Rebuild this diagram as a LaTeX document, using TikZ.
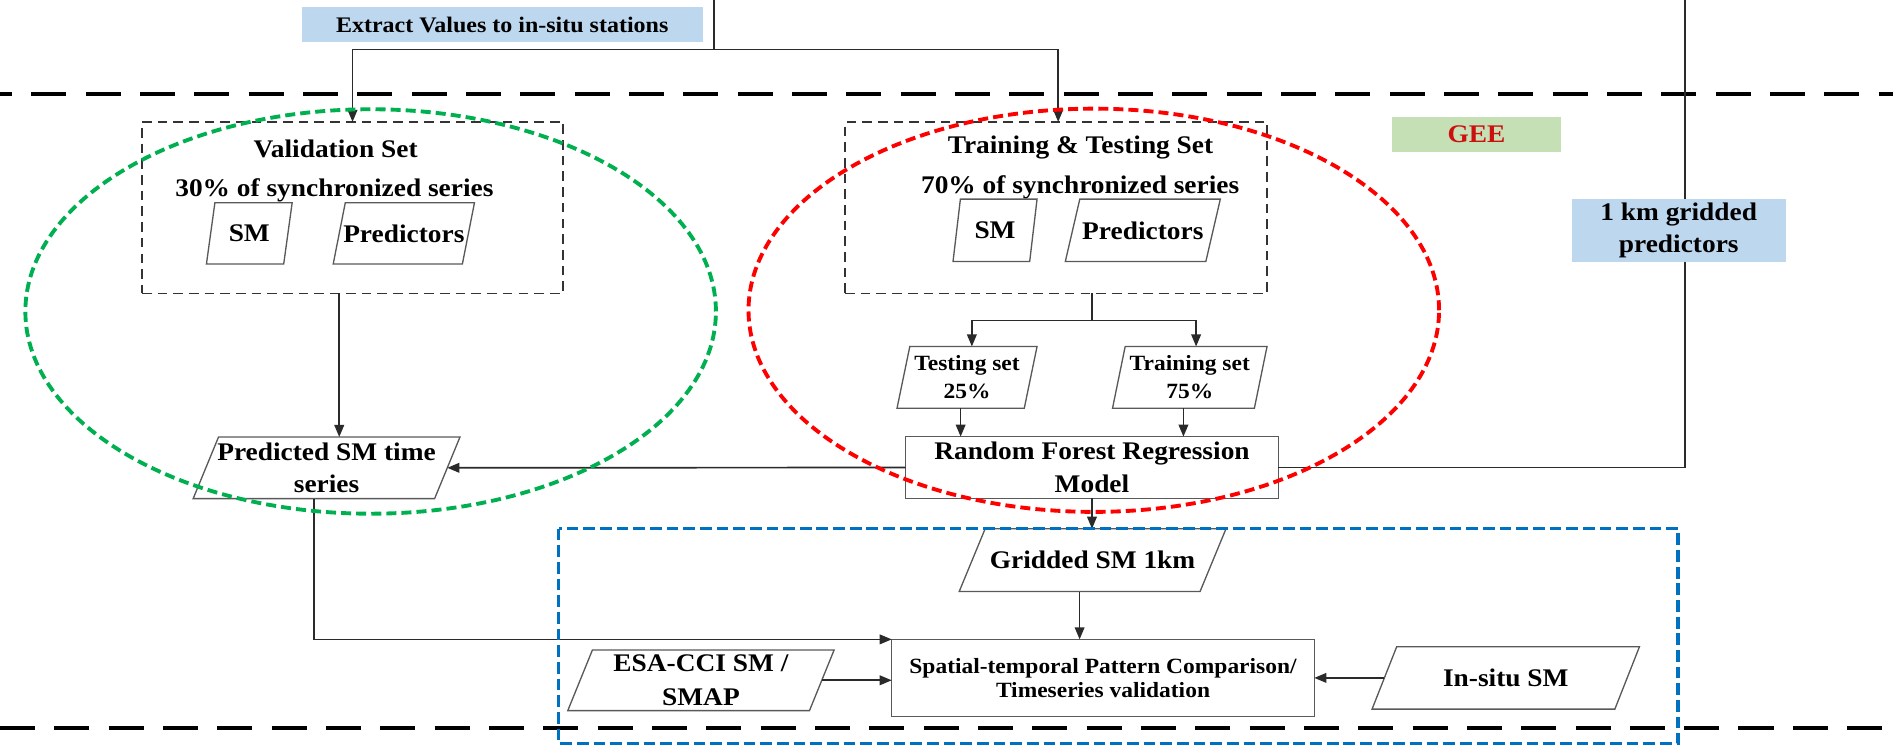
\documentclass[tikz,border=0pt]{standalone}
\usepackage{fontspec}
\setmainfont{Liberation Serif}[FakeStretch=1.08]
\usetikzlibrary{arrows.meta}
\definecolor{lblue}{HTML}{BDD7EE}
\definecolor{lgreen}{HTML}{C5E0B4}
\definecolor{gred}{HTML}{CC1010}
\definecolor{egreen}{HTML}{00B050}
\definecolor{eblue}{HTML}{0070C0}
\definecolor{lc}{HTML}{2A2A2A}
\newcommand\parallelo[2]{\draw[pline] ([xshift=#2]#1.north west) -- (#1.north east) -- ([xshift=-#2]#1.south east) -- (#1.south west) -- cycle;}
\begin{document}
\begin{tikzpicture}[x=1pt,y=-1pt,
  every node/.style={inner sep=0pt, outer sep=0pt},
  bt/.style={font=\fontsize{21}{26.5}\selectfont\bfseries, align=center},
  st/.style={font=\fontsize{18}{23}\selectfont\bfseries, align=center},
  conn/.style={draw=lc, line width=1.4pt},
  arr/.style={conn, -{Triangle[length=10pt,width=8pt]}},
  pline/.style={draw=black!65, line width=1.1pt},
  rbox/.style={draw=black!65, line width=1.1pt},
  dbox/.style={draw=black!80, line width=1.2pt, dash pattern=on 8pt off 5pt},
  sepline/.style={draw=black, line width=3.3pt, dash pattern=on 29pt off 16pt},
  ell/.style={line width=3.2pt, dash pattern=on 8.3pt off 4.2pt},
  bluebox/.style={draw=eblue, line width=2.8pt, dash pattern=on 9.7pt off 4.1pt},
]
\useasboundingbox (0,0) rectangle (1568,620);

% separators
\draw[sepline, dash phase=19pt] (0,78) -- (1568,78);
\draw[sepline] (0,603) -- (1568,603);

\coordinate (topin) at (591.3,0);
\coordinate (split) at (591.3,41);
\coordinate (rtop) at (1395.6,0);
\coordinate (tsplit) at (904.5,265.6);

% top boxes
\node[fill=lblue, minimum width=332, minimum height=29, font=\fontsize{18.4}{22}\selectfont\bfseries] (extract) at (416,20.5) {Extract Values to in-situ stations};
\node[fill=lgreen, minimum width=140, minimum height=29, bt, text=gred] (gee) at (1223,111.5) {GEE};

% validation set
\node[dbox, minimum width=349, minimum height=142] (valbox) at (292,172) {};
\node[bt, anchor=base] (valtitle) at (278,130.3) {Validation Set};
\node[bt, anchor=base] (valsub) at (277,163) {30\% of synchronized series};
\node[bt, minimum width=71, minimum height=50.7] (valsm) at (206.5,193.3) {SM};
\node[bt, minimum width=117, minimum height=50.7] (valpred) at (334.5,193.3) {Predictors};
\parallelo{valsm}{7}
\parallelo{valpred}{10}

% training & testing set
\node[dbox, minimum width=349.6, minimum height=142] (trainbox) at (874.8,172) {};
\node[bt, anchor=base] (trtitle) at (895,127) {Training \& Testing Set};
\node[bt, anchor=base] (trsub) at (894.7,160) {70\% of synchronized series};
\node[bt, minimum width=69.6, minimum height=51.7] (trsm) at (824.2,190.8) {SM};
\node[bt, minimum width=128.4, minimum height=51.7] (trpred) at (946.6,190.8) {Predictors};
\parallelo{trsm}{6.1}
\parallelo{trpred}{12}

\node[st, minimum width=116, minimum height=51.2] (testing) at (801,312.6) {Testing set\\25\%};
\node[st, minimum width=128, minimum height=51.2] (training) at (985.5,312.6) {Training set\\75\%};
\parallelo{testing}{10.6}
\parallelo{training}{10.5}

\node[rbox, bt, font=\fontsize{21}{27.5}\selectfont\bfseries, minimum width=308.6, minimum height=51.1] (rf) at (904.5,387.25) {Random Forest Regression\\Model};

\node[bt, minimum width=221, minimum height=51] (pred) at (270.5,387.5) {Predicted SM time\\series};
\parallelo{pred}{21}

% right line behind the 1 km box
\draw[conn] (rtop) |- (rf.east);
\node[fill=lblue, bt, font=\fontsize{21}{26}\selectfont\bfseries, minimum width=177, minimum height=52] (grid1km) at (1390.5,191) {1 km gridded\\predictors};

% bottom part
\node[bt, minimum width=221, minimum height=52] (gridded) at (905,464) {Gridded SM 1km};
\parallelo{gridded}{21.5}
\node[rbox, st, font=\fontsize{18}{20.5}\selectfont\bfseries, minimum width=350, minimum height=64] (spatial) at (913.65,561.6) {Spatial-temporal Pattern Comparison/\\Timeseries validation};
\node[bt, font=\fontsize{21}{27.5}\selectfont\bfseries, minimum width=220.6, minimum height=50.2] (esa) at (580.6,563.5) {ESA-CCI SM /\\SMAP};
\parallelo{esa}{20.4}
\node[bt, minimum width=221.5, minimum height=51.7] (insitu) at (1247.25,561.5) {In-situ SM};
\parallelo{insitu}{20.4}

% connectors
\draw[conn] (topin) -- (split);
\draw[arr] (split) -| (valbox.north);
\draw[arr] (split) -| ([xshift=1.7]trainbox.north);
\draw[arr] ([xshift=10.5]pred.north |- valbox.south) -- ([xshift=10.5]pred.north);
\draw[conn] (trainbox.south -| tsplit) -- (tsplit);
\draw[arr] (tsplit) -| ([xshift=4]testing.north);
\draw[arr] (tsplit) -| ([xshift=5.25]training.north);
\draw[arr] ([xshift=-5.3]testing.south) -- ([xshift=-5.3]testing.south |- rf.north);
\draw[arr] ([xshift=-5.25]training.south) -- ([xshift=-5.25]training.south |- rf.north);
\draw[arr] (rf.west) -- ([xshift=-10.5]pred.east);
\draw[arr] (rf.south) -- (rf.south |- gridded.north);
\draw[arr] ([xshift=-10.75]gridded.south) -- ([xshift=-10.75]gridded.south |- spatial.north);
\draw[arr] ([xshift=-10.5]pred.south) |- (spatial.north west);
\draw[arr] ([xshift=-10.2]esa.east) -- (esa.east -| spatial.west);
\draw[arr] ([xshift=10.2]insitu.west) -- (insitu.west -| spatial.east);

% grouping outlines
\draw[ell, draw=egreen] (307,258) ellipse [x radius=286pt, y radius=167.5pt];
\draw[ell, draw=red] (906,257) ellipse [x radius=286pt, y radius=167pt];
\draw[bluebox] (462.8,438) rectangle (1390,616);
\end{tikzpicture}
\end{document}
